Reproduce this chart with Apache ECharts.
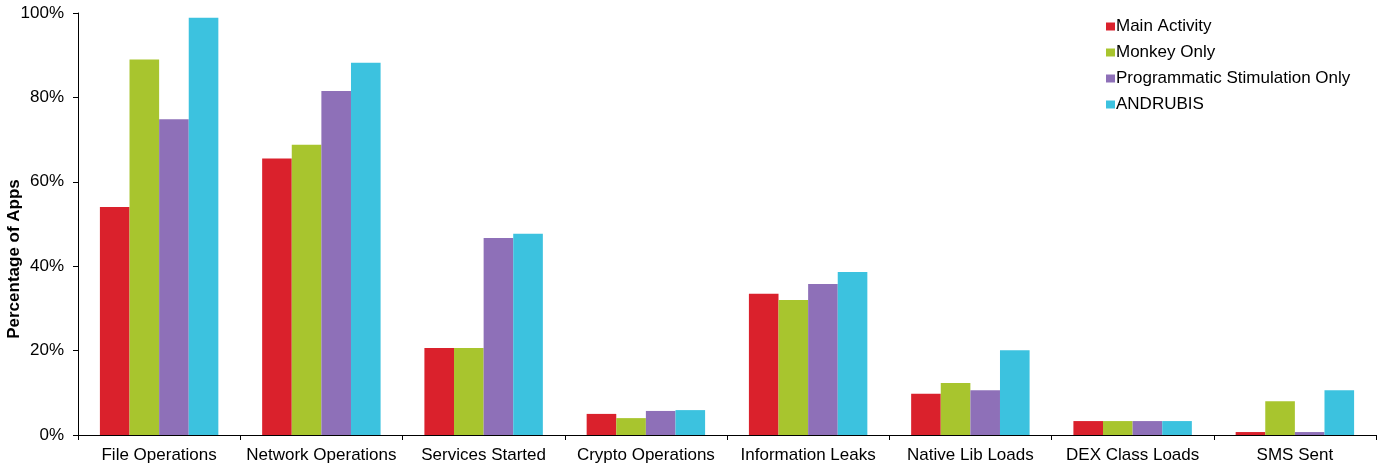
<!DOCTYPE html>
<html><head><meta charset="utf-8">
<script src="https://cdn.jsdelivr.net/npm/echarts@6/dist/echarts.min.js"></script>
<style>html,body{margin:0;padding:0;background:#fff}#c{width:1377px;height:468px}</style>
</head><body><div id="c"></div>
<script>
var categories = ['File Operations','Network Operations','Services Started','Crypto Operations','Information Leaks','Native Lib Loads','DEX Class Loads','SMS Sent'];
var seriesNames = ['Main Activity','Monkey Only','Programmatic Stimulation Only','ANDRUBIS'];
var mainActivity = [54, 65.5, 20.6, 5.0, 33.5, 9.8, 3.3, 0.7];
var monkeyOnly = [89, 68.8, 20.6, 4.0, 32.0, 12.3, 3.3, 8.0];
var programmatic = [74.8, 81.5, 46.7, 5.7, 35.8, 10.6, 3.3, 0.7];
var andrubis = [98.9, 88.2, 47.7, 5.9, 38.6, 20.1, 3.3, 10.6];
var colors = ['#DA212C','#A8C52E','#8E70B8','#3CC2DF'];
var yTicks = [0,20,40,60,80,100];

var chart = echarts.init(document.getElementById('c'));
var font = 'Liberation Sans, Arial, Helvetica, sans-serif';
var data = [mainActivity, monkeyOnly, programmatic, andrubis];
chart.setOption({
  animation:false,
  textStyle:{fontFamily:font},
  grid:{left:78,right:1,top:13,bottom:33,containLabel:false,outerBoundsMode:'none'},
  legend:{orient:'vertical',left:1101,top:13,itemWidth:9,itemHeight:8,itemGap:9,
    icon:'rect',textStyle:{fontSize:17,color:'#000',fontFamily:font,padding:[0,0,0,-4]},
    data:seriesNames},
  xAxis:{type:'category',data:categories,
    axisLine:{lineStyle:{color:'#000',width:1}},
    axisTick:{show:true,length:5,lineStyle:{color:'#000'}},
    axisLabel:{fontSize:17,color:'#000',margin:12,fontFamily:font,interval:0}},
  yAxis:{type:'value',min:0,max:100,interval:20,
    name:'Percentage of Apps',nameLocation:'middle',nameGap:55,nameMoveOverlap:false,
    nameTextStyle:{fontSize:17,fontWeight:'bold',color:'#000',fontFamily:font,padding:[0,70,0,0]},
    axisLine:{show:true,lineStyle:{color:'#000',width:1}},
    axisTick:{show:true,length:5,inside:false,lineStyle:{color:'#000'}},
    splitLine:{show:false},
    axisLabel:{fontSize:17,color:'#000',margin:14,fontFamily:font,formatter:function(v){return v+'%';}}},
  series: seriesNames.map(function(n,i){return {name:n,type:'bar',data:data[i],barGap:'0%',barCategoryGap:'27%',itemStyle:{color:colors[i]}};})
});
</script></body></html>
